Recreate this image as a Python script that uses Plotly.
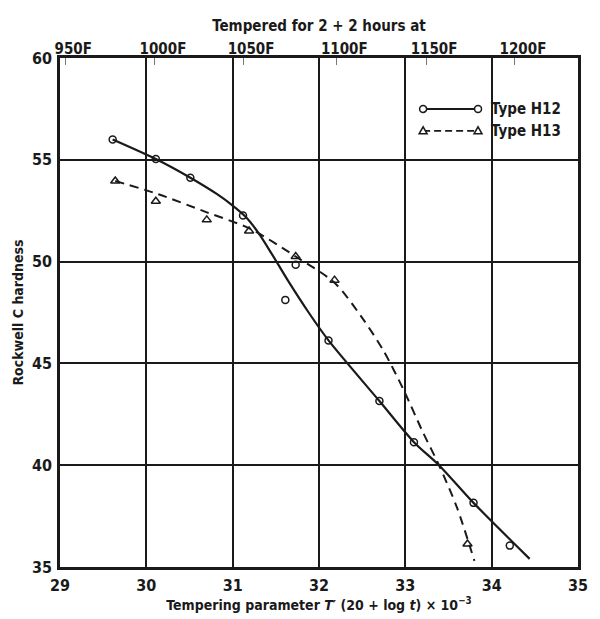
import plotly.graph_objects as go

# Measured hardness values (tempering parameter, Rockwell C)
h12_x = [29.61, 30.11, 30.51, 31.12, 31.73, 31.61, 32.11, 32.70, 33.10, 33.79, 34.21]
h12_y = [56.0, 55.04, 54.12, 52.26, 49.84, 48.12, 46.13, 43.15, 41.13, 38.15, 36.05]
h13_x = [29.64, 30.11, 30.70, 31.19, 31.73, 32.18, 33.72]
h13_y = [53.96, 52.96, 52.05, 51.5, 50.25, 49.09, 36.13]

# Faired curves drawn through the data
h12_curve_x = [29.61, 30.11, 30.51, 30.82, 31.0, 31.15, 31.3, 31.45, 31.65, 31.88, 32.11, 32.70, 33.10, 33.39, 33.79, 34.44]
h12_curve_y = [56.0, 55.04, 54.12, 53.31, 52.75, 52.2, 51.4, 50.4, 49.0, 47.5, 46.13, 43.15, 41.13, 40.0, 38.15, 35.4]
h13_curve_x = [29.64, 30.14, 30.70, 31.20, 31.73, 32.18, 32.49, 32.75, 32.98, 33.20, 33.39, 33.60, 33.80]
h13_curve_y = [53.96, 53.31, 52.42, 51.62, 50.25, 48.96, 47.3, 45.6, 43.7, 41.65, 40.0, 37.9, 35.3]

# Temperature scale along the top (2 + 2 h temper)
temp_vals = [29.06, 30.10, 31.12, 32.20, 33.24, 34.27]
temp_text = ["950F", "1000F", "1050F", "1100F", "1150F", "1200F"]

x_ticks = [29, 30, 31, 32, 33, 34, 35]
y_ticks = [35, 40, 45, 50, 55, 60]

FONT = "Liberation Sans Narrow, DejaVu Sans Condensed, Arial Narrow, sans-serif"
INK = "#1a1a1a"

fig = go.Figure()

fig.add_trace(go.Scatter(x=h12_curve_x, y=h12_curve_y, mode="lines",
                         line=dict(color=INK, width=2.2, shape="spline", smoothing=0.8),
                         hoverinfo="skip", showlegend=False))
fig.add_trace(go.Scatter(x=h13_curve_x, y=h13_curve_y, mode="lines",
                         line=dict(color=INK, width=2, dash="9px,6px", shape="spline", smoothing=0.8),
                         hoverinfo="skip", showlegend=False))
fig.add_trace(go.Scatter(x=h12_x, y=h12_y, mode="markers", name="Type H12",
                         marker=dict(symbol="circle-open", size=7, color=INK, line=dict(width=1.5)),
                         showlegend=False))
fig.add_trace(go.Scatter(x=h13_x, y=h13_y, mode="markers", name="Type H13",
                         marker=dict(symbol="triangle-up-open", size=8, color=INK, line=dict(width=1.5)),
                         showlegend=False))
# carrier trace for the top temperature axis
fig.add_trace(go.Scatter(x=[29, 35], y=[35, 35], xaxis="x2", mode="lines",
                         line=dict(width=0), hoverinfo="skip", showlegend=False))

# Hand-drawn key in the upper right
key_x0, key_x1, key_tx = 0.701, 0.807, 0.828
rows = [(0.900, "Type H12", "solid", "circle"), (0.857, "Type H13", "dash", "triangle")]
shapes = []
annotations = []
for ky, label, dash, sym in rows:
    shapes.append(dict(type="line", xref="paper", yref="paper", x0=key_x0, x1=key_x1, y0=ky, y1=ky,
                       line=dict(color=INK, width=2 if dash == "solid" else 1.8,
                                 dash="solid" if dash == "solid" else "7px,4px")))
    for kx in (key_x0, key_x1):
        if sym == "circle":
            shapes.append(dict(type="circle", xref="paper", yref="paper", xsizemode="pixel", ysizemode="pixel",
                               xanchor=kx, yanchor=ky, x0=-3.5, x1=3.5, y0=-3.5, y1=3.5,
                               fillcolor="white", line=dict(color=INK, width=1.5)))
        else:
            shapes.append(dict(type="path", xref="paper", yref="paper", xsizemode="pixel", ysizemode="pixel",
                               xanchor=kx, yanchor=ky, path="M -4,-3 L 4,-3 L 0,4 Z",
                               fillcolor="white", line=dict(color=INK, width=1.5)))
    annotations.append(dict(text="<b>" + label + "</b>", xref="paper", yref="paper", x=key_tx, y=ky,
                            xanchor="left", yanchor="middle", showarrow=False,
                            font=dict(family=FONT, size=15, color=INK)))

fig.update_layout(
    width=600, height=619,
    margin=dict(l=60, r=12, t=58, b=45),
    paper_bgcolor="white", plot_bgcolor="white",
    font=dict(family=FONT, color=INK),
    shapes=shapes, annotations=annotations,
    xaxis=dict(range=[29, 35], tickvals=x_ticks, ticks="", showgrid=True,
               gridcolor=INK, gridwidth=2, zeroline=False,
               showline=True, linecolor=INK, linewidth=2.5, mirror=True,
               tickfont=dict(family=FONT, size=16, weight="bold"), ticklabelstandoff=2,
               title=dict(text="<b>Tempering parameter <i>T</i>′ (20 + log <i>t</i>) × 10<sup>−3</sup></b>",
                          font=dict(family=FONT, size=14), standoff=2)),
    xaxis2=dict(range=[29, 35], overlaying="x", side="top", tickvals=temp_vals, ticktext=temp_text,
                ticks="inside", ticklen=7, tickwidth=1, tickcolor="#777", showgrid=False,
                zeroline=False, showline=False, ticklabelshift=8,
                tickfont=dict(family=FONT, size=15, weight="bold"),
                title=dict(text="<b>Tempered for 2 + 2 hours at</b>",
                           font=dict(family=FONT, size=15), standoff=4)),
    yaxis=dict(range=[35, 60], tickvals=y_ticks, ticks="", showgrid=True,
               gridcolor=INK, gridwidth=2, zeroline=False,
               showline=True, linecolor=INK, linewidth=2.5, mirror=True,
               tickfont=dict(family=FONT, size=16, weight="bold"), ticklabelstandoff=2,
               title=dict(text="<b>Rockwell C hardness</b>", font=dict(family=FONT, size=14), standoff=6)),
)

fig.write_html("out.html")
